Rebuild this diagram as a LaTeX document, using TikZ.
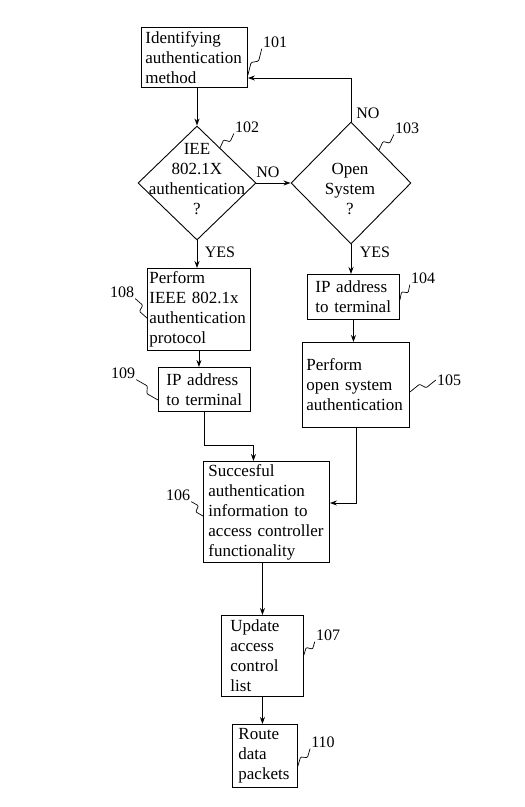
\documentclass[tikz,border=0pt]{standalone}
\usepackage{fontspec}
\setmainfont{Liberation Serif}
\usetikzlibrary{shapes.geometric,arrows.meta,calc}
\hyphenpenalty=10000
\exhyphenpenalty=10000
\begin{document}
\begin{tikzpicture}[x=1pt,y=-1pt,
  every node/.style={font=\fontsize{17pt}{20pt}\selectfont},
  box/.style={draw,line width=0.9pt,anchor=north west,align=left,inner ysep=2pt},
  dia/.style={draw,diamond,line width=0.9pt,inner sep=0pt},
  lab/.style={font=\fontsize{16pt}{18pt}\selectfont,inner sep=1pt},
  arr/.style={line width=0.9pt,-{Stealth[length=7pt,width=5pt]}},
  squig/.style={line width=0.7pt,rounded corners=1pt,to path={
    -- ($(\tikztostart)!0.42!(\tikztotarget)!3pt!90:(\tikztotarget)$)
    -- ($(\tikztostart)!0.58!(\tikztotarget)!3pt!-90:(\tikztotarget)$)
    -- (\tikztotarget)}}]
\useasboundingbox (0,0) rectangle (525,807);

% boxes
\node[box,text width=98pt,inner xsep=4pt,minimum height=60pt] (b101) at (141,27) {Identifying\\authentication\\method};
\node[box,text width=99pt,inner xsep=2pt,minimum height=82pt] (b108) at (147,268) {Perform\\IEEE 802.1x\\authentication\\protocol};
\node[box,text width=76pt,inner xsep=8pt,minimum height=44pt] (b109) at (158,367) {IP address\\to terminal};
\node[box,text width=76pt,inner xsep=8pt,minimum height=45pt] (b104) at (307,274) {IP address\\to terminal};
\node[box,text width=99pt,inner xsep=4pt,minimum height=85pt] (b105) at (302,342) {Perform\\open system\\authentication};
\node[box,text width=116pt,inner xsep=5pt,minimum height=101pt] (b106) at (203,461) {Succesful\\authentication\\information to\\access controller\\functionality};
\node[box,text width=64pt,inner xsep=9pt,minimum height=81pt] (b107) at (221,615) {Update\\access\\control\\list};
\node[box,text width=53pt,inner xsep=6pt,minimum height=63pt] (b110) at (232,724) {Route\\data\\packets};

% diamonds
\node[dia,minimum width=118pt,minimum height=114pt] (d102) at (197,183) {};
\node[align=center,inner sep=0pt] (t102) at (197,179) {IEE\\802.1X\\authentication\\?};
\node[dia,minimum width=120pt,minimum height=122pt] (d103) at (351,183) {};
\node[align=center,inner sep=0pt] (t103) at (350,189) {Open\\System\\?};

% reference labels
\node[lab] (l101) at (275,42) {101};
\node[lab] (l102) at (247,127) {102};
\node[lab] (l103) at (407,128) {103};
\node[lab] (l104) at (423,278) {104};
\node[lab] (l105) at (449,380) {105};
\node[lab] (l106) at (178,495) {106};
\node[lab] (l107) at (328,635) {107};
\node[lab] (l108) at (122,292) {108};
\node[lab] (l109) at (123,373) {109};
\node[lab] (l110) at (323,742) {110};

% branch labels
\node[lab] (no1) at (268,172) {NO};
\node[lab] (no2) at (368,113) {NO};
\node[lab] (yes1) at (220,252) {YES};
\node[lab] (yes2) at (375,252) {YES};

% connectors
\draw[arr] (d102.north |- b101.south) -- (d102.north);
\draw[arr] (d102.east) -- (d103.west);
\draw[arr] (d103.north) -- (d103.north |- 0,78) -- (b101.east |- 0,78);
\draw[arr] (d102.south) -- (d102.south |- b108.north);
\draw[arr] (d103.south) -- (d103.south |- b104.north);
\draw[arr] (b108.south) -- (b108.south |- b109.north);
\draw[arr] (b109.south) -- (b109.south |- 0,445) -- ($(b106.north |- 0,445)+(-13,0)$) -- ($(b106.north)+(-13,0)$);
\draw[arr] (b104.south) -- (b104.south |- b105.north);
\draw[arr] (b105.south) -- (b105.south |- 0,503) -- (b106.east |- 0,503);
\draw[arr] (b107.north |- b106.south) -- (b107.north);
\draw[arr] (b107.south) -- (b107.south |- b110.north);

% leader squiggles
\draw[squig] (b101.east |- 0,75) to (l101.south west);
\draw[squig] (220,148) to (l102.south west);
\draw[squig] (379,150) to (l103.south west);
\draw[squig] (b104.east |- 0,300) to (l104.south west);
\draw[squig] (b105.east |- 0,392) to (l105.west);
\draw[squig] (l106.south east) to (b106.west |- 0,516);
\draw[squig] (b107.east |- 0,655) to (l107.south west);
\draw[squig] (l108.south east) to (b108.west |- 0,318);
\draw[squig] (l109.south east) to (b109.west |- 0,400);
\draw[squig] (b110.east |- 0,766) to (l110.south west);
\end{tikzpicture}
\end{document}
